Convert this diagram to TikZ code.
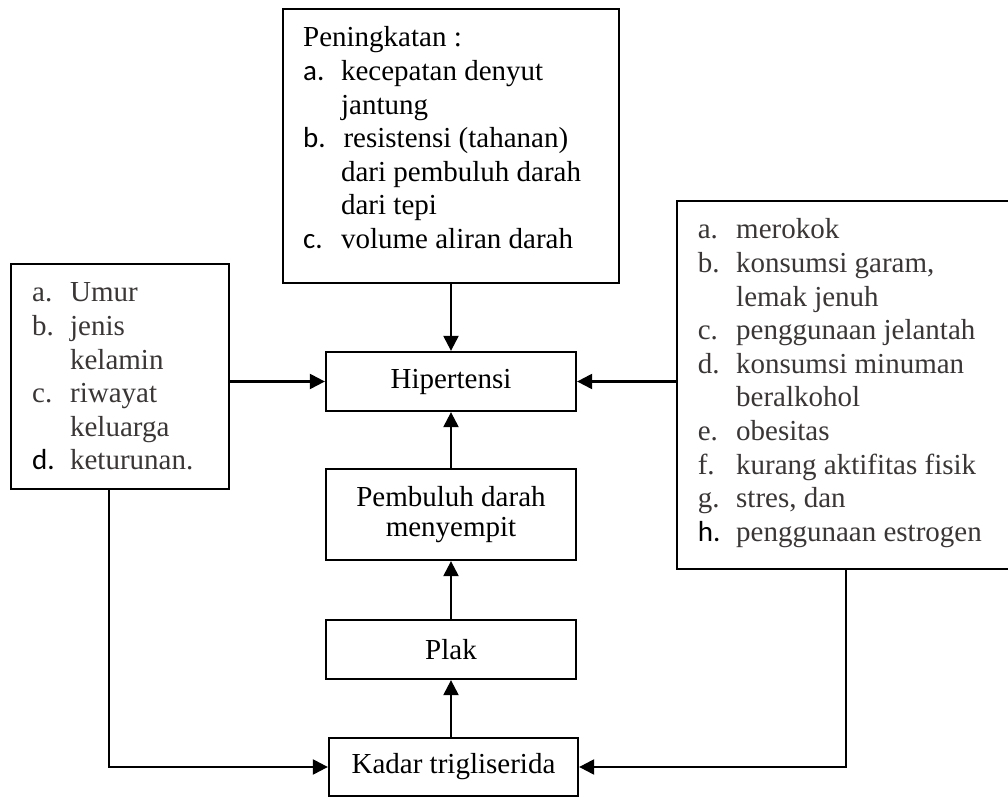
\documentclass[tikz,border=0pt]{standalone}
\usepackage{fontspec}
\setmainfont{Liberation Serif}
\newfontfamily\calibri{Carlito}
\usetikzlibrary{arrows.meta,fit}
\newcommand{\lbl}[1]{\leavevmode{\calibri\color{black}#1}}
\renewcommand{\arraystretch}{1}
\begin{document}
\begin{tikzpicture}[x=0.4138pt,y=-0.4138pt,
  kotak/.style={draw=pathcolor,line width=0.95pt,inner sep=0pt},
  daftar/.style={anchor=base west,inner sep=0pt,font=\fontsize{12}{13.9}\selectfont},
  tengah/.style={kotak,align=center,minimum width=250*0.4138pt,font=\fontsize{12}{12.5}\selectfont},
  panah/.style={draw=pathcolor,line width=0.95pt,-{Triangle[length=6.2pt,width=6.2pt]}}]
\definecolor{pathcolor}{RGB}{0,0,0}
\definecolor{textcolor}{RGB}{0,0,0}
\definecolor{greycolor}{RGB}{58,54,54}
\useasboundingbox (0,0) rectangle (1008,798);
\clip (0,0) rectangle (1008,798);
\node [kotak,fit={(283,9) (619,283)}] (peningkatan) {};
\node [kotak,fit={(11,264) (229,489)}] (faktor) {};
\node [kotak,fit={(677,201) (1015,569)}] (gayahidup) {};
\node [tengah,minimum height=59*0.4138pt] (hipertensi) at (451,381.5) {Hipertensi};
\node [tengah,minimum height=91*0.4138pt] (pembuluh) at (451,514.5) {Pembuluh darah\\menyempit};
\node [tengah,minimum height=59*0.4138pt] (plak) at (451,649.5) {Plak};
\node [tengah,minimum width=249*0.4138pt,minimum height=58*0.4138pt] (kadar) at (453.5,767) {Kadar trigliserida};
\node [daftar,text=textcolor] (peningkatanteks) at (302.7,47) {%
\begin{tabular}[t]{@{}p{15.7pt}@{}l@{}}
\multicolumn{2}{@{}l@{}}{Peningkatan :}\\
\lbl{a.} & kecepatan denyut\\
 & jantung\\
\lbl{b.} & \kern1pt resistensi (tahanan)\\
 & dari pembuluh darah\\
 & dari tepi\\
\lbl{c.} & volume aliran darah
\end{tabular}};
\node [daftar,text=greycolor] (faktorteks) at (31.7,302) {%
\begin{tabular}[t]{@{}p{15.7pt}@{}l@{}}
a. & Umur\\
b. & jenis\\
 & kelamin\\
c. & riwayat\\
 & keluarga\\
\lbl{d.} & keturunan.
\end{tabular}};
\node [daftar,text=greycolor] (gayahidupteks) at (697.3,239) {%
\begin{tabular}[t]{@{}p{15.9pt}@{}l@{}}
a. & merokok\\
b. & konsumsi garam,\\
 & lemak jenuh\\
c. & penggunaan jelantah\\
d. & konsumsi minuman\\
 & beralkohol\\
e. & obesitas\\
f. & kurang aktifitas fisik\\
g. & stres, dan\\
\lbl{h.} & penggunaan estrogen
\end{tabular}};
\draw [panah] (peningkatan.south -| hipertensi.north) -- (hipertensi.north);
\draw [panah] (faktor.east |- hipertensi.west) -- (hipertensi.west);
\draw [panah] (gayahidup.west |- hipertensi.east) -- (hipertensi.east);
\draw [panah] (pembuluh.north) -- (hipertensi.south);
\draw [panah] (plak.north) -- (pembuluh.south);
\draw [panah] (kadar.north -| plak.south) -- (plak.south);
\draw [panah] ([xshift=-4.5pt]faktor.south) |- (kadar.west);
\draw [panah] (gayahidup.south) |- (kadar.east);
\end{tikzpicture}
\end{document}
